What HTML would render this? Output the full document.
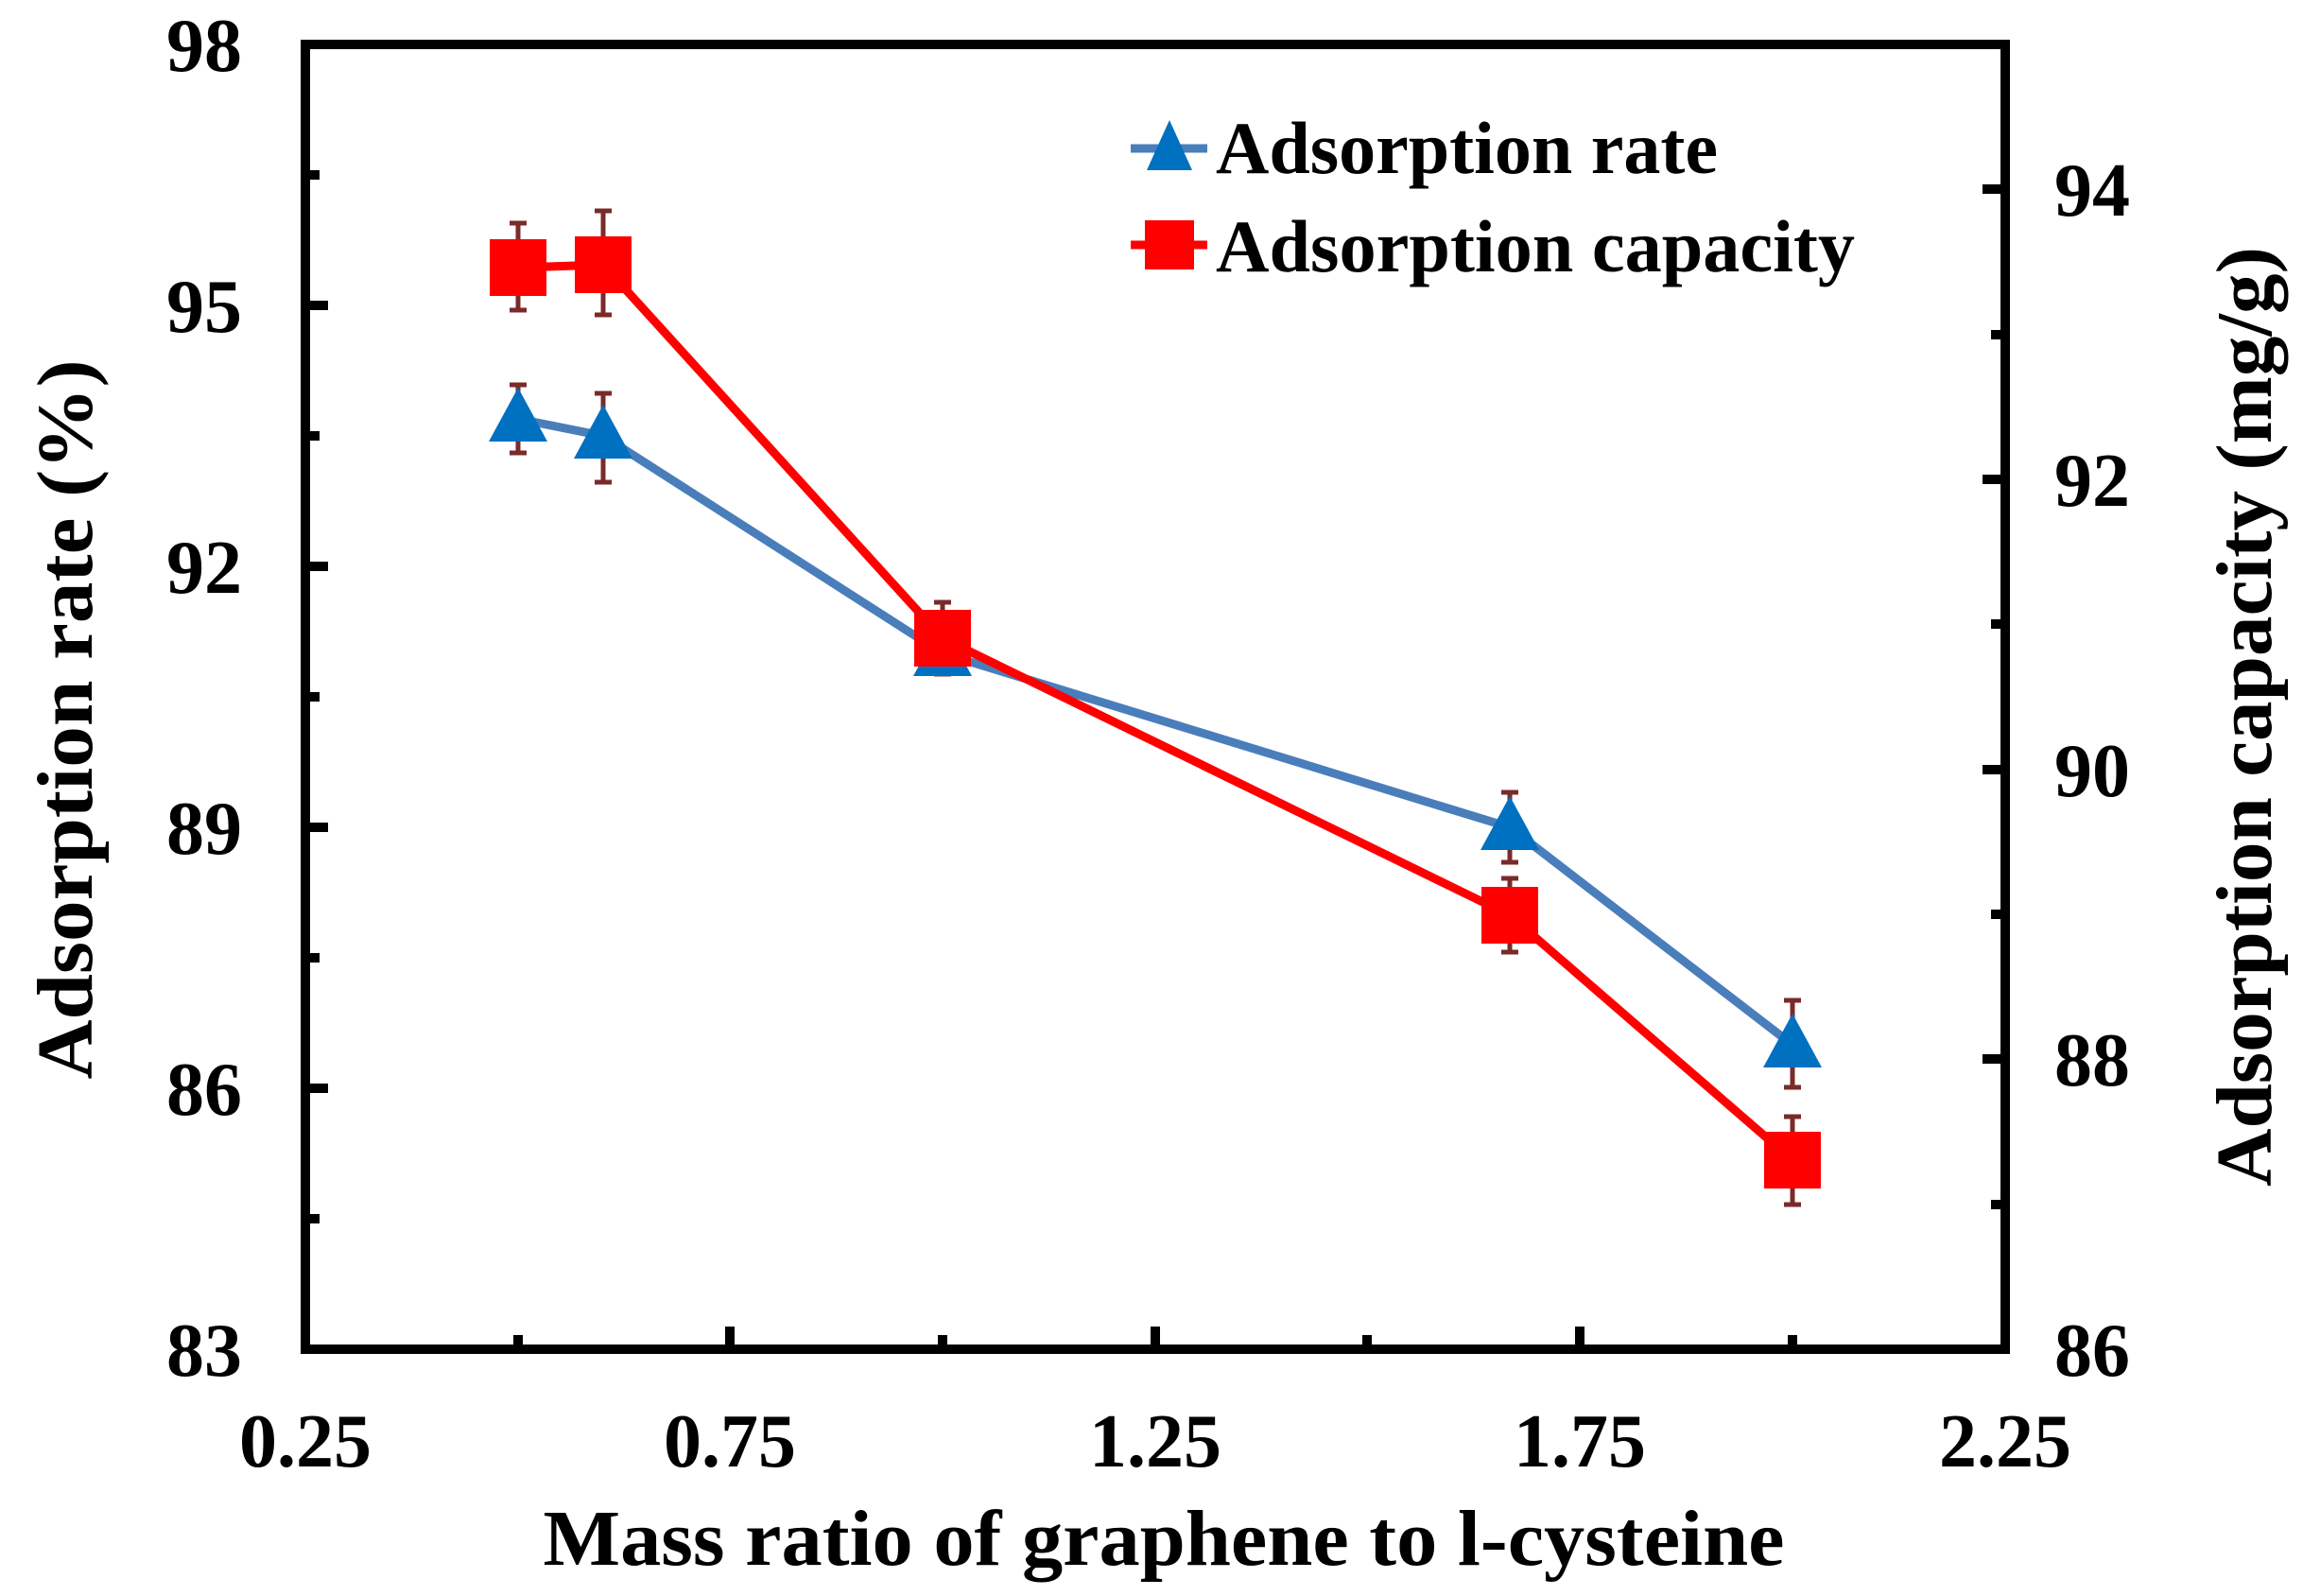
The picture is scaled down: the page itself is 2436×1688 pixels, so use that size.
<!DOCTYPE html>
<html><head><meta charset="utf-8"><style>
html,body{margin:0;padding:0;background:#fff;}
svg{display:block;}
text{font-family:"Liberation Serif","Times New Roman",serif;font-weight:bold;fill:#000;}
</style></head><body>
<svg width="2436" height="1688" viewBox="0 0 2436 1688" xmlns="http://www.w3.org/2000/svg">
<rect width="2436" height="1688" fill="#fff"/>
<!-- ticks left (inward) -->
<g stroke="#000" stroke-width="10">
<line x1="323" y1="323" x2="347" y2="323"/>
<line x1="323" y1="599" x2="347" y2="599"/>
<line x1="323" y1="875" x2="347" y2="875"/>
<line x1="323" y1="1151" x2="347" y2="1151"/>
<line x1="323" y1="185" x2="338" y2="185"/>
<line x1="323" y1="461" x2="338" y2="461"/>
<line x1="323" y1="737" x2="338" y2="737"/>
<line x1="323" y1="1013" x2="338" y2="1013"/>
<line x1="323" y1="1289" x2="338" y2="1289"/>
<!-- right -->
<line x1="2121" y1="1120" x2="2097" y2="1120"/>
<line x1="2121" y1="814" x2="2097" y2="814"/>
<line x1="2121" y1="507" x2="2097" y2="507"/>
<line x1="2121" y1="200" x2="2097" y2="200"/>
<line x1="2121" y1="1274" x2="2106" y2="1274"/>
<line x1="2121" y1="967" x2="2106" y2="967"/>
<line x1="2121" y1="660" x2="2106" y2="660"/>
<line x1="2121" y1="354" x2="2106" y2="354"/>
<!-- x -->
<line x1="772" y1="1427" x2="772" y2="1403"/>
<line x1="1222" y1="1427" x2="1222" y2="1403"/>
<line x1="1671" y1="1427" x2="1671" y2="1403"/>
<line x1="548" y1="1427" x2="548" y2="1412"/>
<line x1="997" y1="1427" x2="997" y2="1412"/>
<line x1="1446" y1="1427" x2="1446" y2="1412"/>
<line x1="1896" y1="1427" x2="1896" y2="1412"/>
</g>
<rect x="323" y="47" width="1798" height="1380" fill="none" stroke="#000" stroke-width="10"/>
<!-- tick labels -->
<g font-size="80" text-anchor="end">
<text x="256" y="75">98</text>
<text x="256" y="351">95</text>
<text x="256" y="627">92</text>
<text x="256" y="903">89</text>
<text x="256" y="1179">86</text>
<text x="256" y="1455">83</text>
</g>
<g font-size="80" text-anchor="start">
<text x="2173" y="228">94</text>
<text x="2173" y="535">92</text>
<text x="2173" y="842">90</text>
<text x="2173" y="1148">88</text>
<text x="2173" y="1455">86</text>
</g>
<g font-size="80" text-anchor="middle">
<text x="323" y="1551">0.25</text>
<text x="772" y="1551">0.75</text>
<text x="1222" y="1551">1.25</text>
<text x="1671" y="1551">1.75</text>
<text x="2121" y="1551">2.25</text>
</g>
<text x="1231" y="1655" font-size="84" text-anchor="middle" textLength="1313" lengthAdjust="spacingAndGlyphs">Mass ratio of graphene to l-cysteine</text>
<text transform="translate(97,761) rotate(-90)" font-size="84" text-anchor="middle" textLength="761" lengthAdjust="spacingAndGlyphs">Adsorption rate (%)</text>
<text transform="translate(2402,758) rotate(-90)" font-size="84" text-anchor="middle" textLength="994" lengthAdjust="spacingAndGlyphs">Adsorption capacity (mg/g)</text>
<!-- lines -->
<polyline points="548,443 638,461 997,691 1597,875 1896,1105" fill="none" stroke="#4a7ebb" stroke-width="9"/>
<polyline points="548,283 638,280 997,675 1597,968 1896,1227" fill="none" stroke="#ff0000" stroke-width="9"/>
<!-- error bars -->
<g stroke="#7b2a2a" stroke-width="5">
<line x1="548" y1="407" x2="548" y2="479"/><line x1="539" y1="407" x2="557" y2="407"/><line x1="539" y1="479" x2="557" y2="479"/>
<line x1="638" y1="416" x2="638" y2="510"/><line x1="629" y1="416" x2="647" y2="416"/><line x1="629" y1="510" x2="647" y2="510"/>
<line x1="997" y1="676" x2="997" y2="712"/><line x1="988" y1="676" x2="1006" y2="676"/><line x1="988" y1="712" x2="1006" y2="712"/>
<line x1="1597" y1="838" x2="1597" y2="912"/><line x1="1588" y1="838" x2="1606" y2="838"/><line x1="1588" y1="912" x2="1606" y2="912"/>
<line x1="1896" y1="1058" x2="1896" y2="1150"/><line x1="1887" y1="1058" x2="1905" y2="1058"/><line x1="1887" y1="1150" x2="1905" y2="1150"/>
<line x1="548" y1="236" x2="548" y2="328"/><line x1="539" y1="236" x2="557" y2="236"/><line x1="539" y1="328" x2="557" y2="328"/>
<line x1="638" y1="223" x2="638" y2="333"/><line x1="629" y1="223" x2="647" y2="223"/><line x1="629" y1="333" x2="647" y2="333"/>
<line x1="997" y1="637" x2="997" y2="713"/><line x1="988" y1="637" x2="1006" y2="637"/><line x1="988" y1="713" x2="1006" y2="713"/>
<line x1="1597" y1="929" x2="1597" y2="1007"/><line x1="1588" y1="929" x2="1606" y2="929"/><line x1="1588" y1="1007" x2="1606" y2="1007"/>
<line x1="1896" y1="1181" x2="1896" y2="1274"/><line x1="1887" y1="1181" x2="1905" y2="1181"/><line x1="1887" y1="1274" x2="1905" y2="1274"/>
</g>
<!-- triangles -->
<g fill="#0070c0">
<polygon points="548,410 579,467 517,467"/>
<polygon points="638,428 669,485 607,485"/>
<polygon points="997,658 1028,715 966,715"/>
<polygon points="1597,842 1628,899 1566,899"/>
<polygon points="1896,1072 1927,1129 1865,1129"/>
</g>
<g fill="#ff0000">
<rect x="518" y="253" width="60" height="60"/>
<rect x="608" y="250" width="60" height="60"/>
<rect x="967" y="645" width="60" height="60"/>
<rect x="1567" y="938" width="60" height="60"/>
<rect x="1866" y="1197" width="60" height="60"/>
</g>
<!-- legend -->
<line x1="1196" y1="157" x2="1277" y2="157" stroke="#4a7ebb" stroke-width="9"/>
<polygon points="1237,127 1261,180 1213,180" fill="#0070c0"/>
<text x="1286" y="183" font-size="78" textLength="531" lengthAdjust="spacingAndGlyphs">Adsorption rate</text>
<line x1="1196" y1="259" x2="1277" y2="259" stroke="#ff0000" stroke-width="9"/>
<rect x="1211" y="233" width="52" height="52" fill="#ff0000"/>
<text x="1286" y="287" font-size="78" textLength="676" lengthAdjust="spacingAndGlyphs">Adsorption capacity</text>
</svg>
</body></html>
